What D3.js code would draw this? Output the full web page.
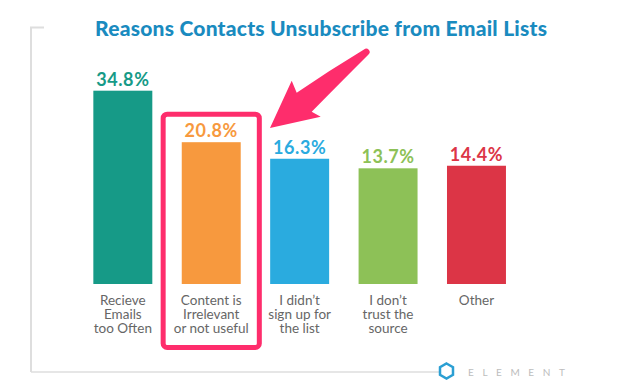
<!DOCTYPE html>
<html>
<head>
<meta charset="utf-8">
<script src="https://cdn.jsdelivr.net/npm/d3@7"></script>
<style>
  html, body { margin: 0; padding: 0; background: #fff; }
  #chart svg { display: block; }
</style>
</head>
<body>
<div id="chart"></div>
<script>
// Chart data
var categories = ["Recieve Emails too Often", "Content is Irrelevant or not useful",
                  "I didn't sign up for the list", "I don't trust the source", "Other"];
var labelLines = [["Recieve", "Emails", "too Often"],
                  ["Content is", "Irrelevant", "or not useful"],
                  ["I didn\u2019t", "sign up for", "the list"],
                  ["I don\u2019t", "trust the", "source"],
                  ["Other"]];
var values = [34.8, 20.8, 16.3, 13.7, 14.4];
var barColors = ["#169a87", "#f7993e", "#2aabdf", "#8dc157", "#dc3546"];
var highlighted = "Content is Irrelevant or not useful";

function initializeChart() {
    d3.select("#chart").select("svg").remove();

    var width = 617, height = 386;

    var svg = d3.select("#chart").append("svg")
        .attr("width", width)
        .attr("height", height);

    // Frame lines (left bracket and bottom rule)
    var frame = svg.append("g").attr("stroke", "#dedede").attr("fill", "none");
    frame.append("path")
        .attr("stroke-width", 2)
        .attr("d", "M44,27.5 H31 V372");
    frame.append("line")
        .attr("stroke-width", 1.5)
        .attr("x1", 31).attr("x2", 440)
        .attr("y1", 372).attr("y2", 372);

    // Title
    svg.append("text")
        .attr("x", 95)
        .attr("y", 35.5)
        .attr("font-family", "Lato, sans-serif")
        .attr("font-weight", 900)
        .attr("font-size", 21)
        .attr("textLength", 452)
        .attr("lengthAdjust", "spacing")
        .attr("fill", "#1a8bbf")
        .text("Reasons Contacts Unsubscribe from Email Lists");

    // X scale
    var x = d3.scaleBand()
        .domain(categories)
        .range([63.9, 535.4])
        .padding(0.333);

    // Y scale (axis does not start at zero in the original)
    var y = d3.scaleLinear()
        .domain([-17.75, 34.8])
        .range([284, 90.7]);

    // Bars
    svg.selectAll("rect.bar")
        .data(values)
        .enter()
        .append("rect")
        .attr("class", "bar")
        .attr("x", (d, i) => x(categories[i]))
        .attr("y", d => y(d))
        .attr("width", x.bandwidth())
        .attr("height", d => y.range()[0] - y(d))
        .attr("fill", (d, i) => barColors[i]);

    // Value labels
    svg.selectAll("text.value")
        .data(values)
        .enter()
        .append("text")
        .attr("class", "value")
        .attr("x", (d, i) => x(categories[i]) + x.bandwidth() / 2)
        .attr("y", d => y(d) - 5)
        .attr("text-anchor", "middle")
        .attr("font-family", "Lato, sans-serif")
        .attr("font-weight", "bold")
        .attr("font-size", 18)
        .attr("letter-spacing", 0.6)
        .attr("fill", (d, i) => barColors[i])
        .text(d => d.toFixed(1) + "%");

    // Category labels
    var cat = svg.selectAll("text.cat")
        .data(categories)
        .enter()
        .append("text")
        .attr("class", "cat")
        .attr("text-anchor", "middle")
        .attr("font-family", "Lato, sans-serif")
        .attr("font-size", 13.5)
        .attr("fill", "#666");
    cat.each(function (d, i) {
        var t = d3.select(this);
        labelLines[i].forEach(function (line, j) {
            t.append("tspan")
                .attr("x", x(d) + x.bandwidth() / 2)
                .attr("y", 305 + j * 14)
                .text(line);
        });
    });

    // Highlight box around one category
    var hx = x(highlighted);
    svg.append("rect")
        .attr("x", hx - 18.6)
        .attr("y", 114.2)
        .attr("width", x.bandwidth() + 37.2)
        .attr("height", 233.3)
        .attr("rx", 4)
        .attr("fill", "none")
        .attr("stroke", "#fe2d6c")
        .attr("stroke-width", 5);

    // Pointer arrow
    svg.append("path")
        .attr("fill", "#fe2d6c")
        .attr("d", "M364,49.5 Q330,70 296.7,92.7 L291.7,80.7 L270,128 L320.7,116.7 L311.7,111.7 " +
                   "Q345,78 368.5,54.5 A3,3 0 0 0 364,49.5 Z");

    // Logo
    var hexR = 7.5, hcx = 446.5, hcy = 371;
    var hexPts = d3.range(6).map(function (k) {
        var a = Math.PI / 3 * k - Math.PI / 2;
        return [hcx + hexR * Math.cos(a), hcy + hexR * Math.sin(a)];
    });
    svg.append("path")
        .attr("d", "M" + hexPts.join("L") + "Z")
        .attr("fill", "#fff")
        .attr("stroke", "#2b9fd3")
        .attr("stroke-width", 2.5);

    svg.append("text")
        .attr("x", 468)
        .attr("y", 375.5)
        .attr("font-family", "Lato, sans-serif")
        .attr("font-size", 10)
        .attr("letter-spacing", 8.6)
        .attr("fill", "#bdbdbd")
        .text("ELEMENT");
}

document.addEventListener('DOMContentLoaded', initializeChart);
</script>
</body>
</html>
